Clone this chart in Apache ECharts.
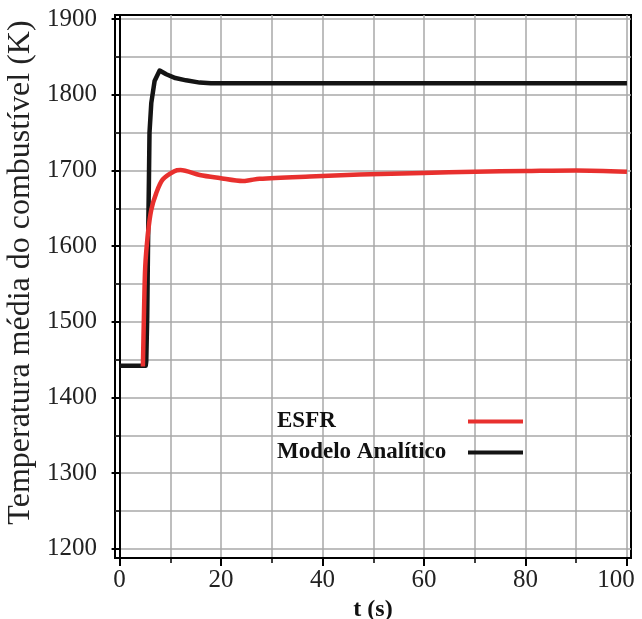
<!DOCTYPE html>
<html>
<head>
<meta charset="utf-8">
<script src="https://cdn.jsdelivr.net/npm/echarts@6/dist/echarts.min.js"></script>
<style>
  html, body { margin: 0; padding: 0; background: #fff; }
  #chart { width: 642px; height: 619px; }
</style>
</head>
<body>
<div id="chart"></div>
<script>
// curves: [t (s), T (K)]
const esfr = [
  [4.6, 1441], [4.8, 1507], [5.06, 1573], [5.6, 1617], [6.25, 1648],
  [7.23, 1670], [8.5, 1688], [10.8, 1699], [12, 1700.5], [15.8, 1694],
  [19.7, 1690], [24.3, 1686], [25.6, 1687], [27.6, 1689], [37.5, 1692],
  [47.3, 1694.5], [59.8, 1696.7], [70, 1698.3], [80, 1699.2], [90, 1700],
  [100, 1698.3]
];
const modelo = [
  [0, 1442], [5.15, 1442], [5.26, 1448], [5.45, 1507], [5.6, 1596],
  [5.78, 1684], [5.9, 1750], [6.25, 1789], [6.9, 1818], [7.9, 1832],
  [9.2, 1827], [11, 1822], [13.1, 1819], [15.8, 1816], [18, 1815],
  [25, 1815], [100, 1815]
];

const xMajor = [0, 20, 40, 60, 80, 100];
const xMinor = [10, 30, 50, 70, 90];
const yMajor = [1200, 1300, 1400, 1500, 1600, 1700, 1800, 1900];
const yMinor = [1250, 1350, 1450, 1550, 1650, 1750, 1850];

const serif = '"Liberation Serif", "DejaVu Serif", serif';
const gridLine = { show: true, lineStyle: { color: '#a8a8a8', width: 1.5 } };
const plain = v => String(v);

const chart = echarts.init(document.getElementById('chart'));

const option = {
  animation: false,
  grid: {
    left: 115, right: 11, top: 15, bottom: 61,
    outerBoundsMode: 'none', containLabel: false,
    show: true, borderColor: '#000', borderWidth: 2
  },
  legend: {
    orient: 'vertical',
    left: 272, top: 405,
    align: 'right',
    icon: 'rect',
    itemWidth: 55, itemHeight: 4,
    itemGap: 8,
    formatter: '{a|{name}}',
    textStyle: {
      rich: {
        a: {
          fontFamily: serif, fontSize: 23, fontWeight: 'bold', color: '#111',
          width: 186, align: 'left', lineHeight: 26
        }
      }
    },
    data: ['ESFR', 'Modelo Analítico']
  },
  xAxis: [{
    type: 'value', min: -0.9, max: 100.8,
    name: 't (s)', nameLocation: 'middle', nameGap: 31,
    nameTextStyle: { fontFamily: serif, fontSize: 24, fontWeight: 'bold', color: '#111' },
    axisLine: { show: true, lineStyle: { color: '#000', width: 2 } },
    axisTick: { show: true, customValues: xMajor, length: 8, lineStyle: { color: '#000', width: 2 } },
    axisLabel: {
      customValues: xMajor, margin: 10, fontFamily: serif, fontSize: 25, color: '#222',
      formatter: v => (v === 100 ? '{r|100}' : String(v)),
      rich: { r: { fontFamily: serif, fontSize: 25, color: '#222', padding: [0, 22, 0, 0] } }
    },
    splitLine: gridLine
  }, {
    type: 'value', min: -0.9, max: 100.8, position: 'bottom',
    axisLine: { show: false },
    axisTick: { show: true, customValues: xMinor, length: 5, lineStyle: { color: '#000', width: 1.5 } },
    axisLabel: { show: false },
    splitLine: gridLine
  }],
  yAxis: [{
    type: 'value', min: 1188, max: 1905.3,
    name: 'Temperatura média do combustível (K)', nameLocation: 'middle', nameGap: 78,
    nameTextStyle: { fontFamily: serif, fontSize: 32, color: '#222', padding: [0, 0, 0, 28] },
    axisLine: { show: true, lineStyle: { color: '#000', width: 2 } },
    axisTick: { show: true, customValues: yMajor, length: 8, lineStyle: { color: '#000', width: 2 } },
    axisLabel: { customValues: yMajor, formatter: plain, margin: 18, fontFamily: serif, fontSize: 25, color: '#222' },
    splitLine: gridLine
  }, {
    type: 'value', min: 1188, max: 1905.3, position: 'left',
    axisLine: { show: false },
    axisTick: { show: true, customValues: yMinor, length: 5, lineStyle: { color: '#000', width: 1.5 } },
    axisLabel: { show: false },
    splitLine: gridLine
  }],
  series: [{
    name: 'Modelo Analítico', type: 'line', data: modelo,
    showSymbol: false, color: '#141414',
    lineStyle: { width: 4.5, color: '#141414', join: 'round' }
  }, {
    name: 'ESFR', type: 'line', data: esfr,
    showSymbol: false, smooth: 0.3, color: '#e8302e',
    lineStyle: { width: 4.5, color: '#e8302e', join: 'round' }
  }]
};

chart.setOption(option);
</script>
</body>
</html>
